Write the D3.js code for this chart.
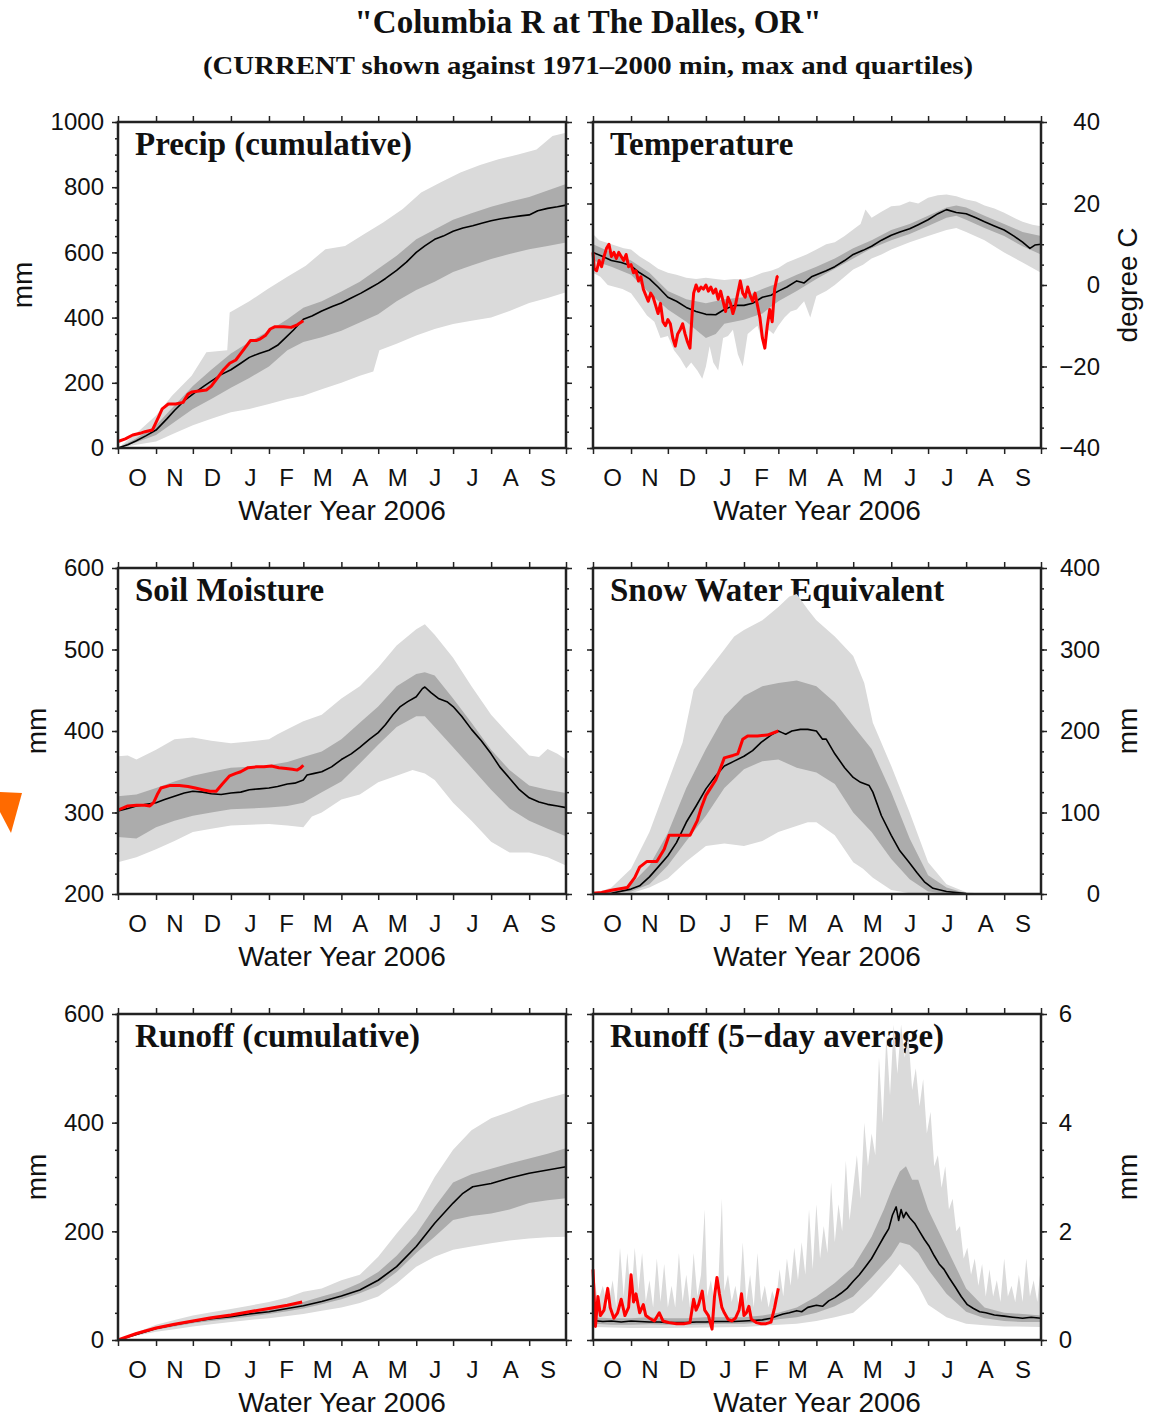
<!DOCTYPE html>
<html>
<head>
<meta charset="utf-8">
<script src="https://cdn.jsdelivr.net/npm/d3@7"></script>
<style>
  body { margin: 0; background: #fff; }
  text { fill: #111; }
</style>
</head>
<body>
<svg id="chart" width="1155" height="1419"></svg>
<script>
// month labels for the water year (Oct..Sep) and the day each month starts
var months = ["O","N","D","J","F","M","A","M","J","J","A","S"];
var monthStarts = [0,31,61,92,123,151,182,212,243,273,304,335,365];

// tick labels per panel
var precipTicks = [0,200,400,600,800,1000];
var tempTicks = [-40,-20,0,20,40];
var soilTicks = [200,300,400,500,600];
var sweTicks = [0,100,200,300,400];
var roCumTicks = [0,200,400,600];
var ro5Ticks = [0,2,4,6];

// ---- Precip (cumulative), mm.  [day of water year, value]
var precipMax = [[0,0],[15,45],[31,100],[44,160],[60,222],[72,294],[89,300],[91,416],[107,450],[122,488],[138,525],[153,559],[169,610],[185,620],[200,655],[216,692],[232,733],[247,784],[263,815],[279,845],[295,868],[310,886],[326,900],[341,916],[354,957],[365,967]];
var precipQ3 = [[0,0],[15,30],[31,70],[46,130],[61,190],[76,240],[92,290],[107,325],[123,360],[138,395],[151,430],[166,450],[182,480],[197,510],[212,550],[227,590],[243,640],[258,670],[273,700],[288,720],[304,740],[319,755],[335,770],[350,790],[365,810]];
var precipMed = [[0,0],[8,10],[15,22],[23,38],[31,55],[40,90],[46,115],[54,145],[61,165],[70,190],[76,205],[84,225],[92,240],[100,260],[107,278],[115,290],[123,300],[130,315],[137,340],[143,362],[151,395],[158,405],[166,420],[175,435],[182,445],[190,460],[198,475],[205,490],[212,505],[218,520],[227,545],[235,570],[243,600],[250,620],[258,640],[265,650],[273,665],[281,675],[289,682],[297,690],[304,697],[312,703],[320,708],[328,712],[335,715],[342,728],[350,735],[358,740],[365,745]];
var precipQ1 = [[0,0],[15,18],[31,40],[46,80],[61,120],[76,150],[92,185],[107,215],[123,250],[138,300],[151,325],[166,340],[182,360],[197,385],[212,410],[227,450],[243,485],[258,510],[273,540],[288,560],[304,580],[319,595],[335,610],[350,620],[365,630]];
var precipMin = [[0,0],[15,10],[31,20],[46,45],[61,70],[76,90],[92,110],[107,120],[123,135],[138,150],[151,160],[166,180],[182,200],[197,222],[208,235],[213,300],[227,320],[243,345],[258,365],[273,380],[288,390],[304,400],[319,420],[335,445],[350,460],[365,478]];
var precipNow = [[0,20],[6,28],[12,40],[18,45],[22,50],[28,55],[33,95],[36,120],[41,135],[47,135],[53,140],[57,165],[60,172],[66,175],[72,178],[76,190],[80,210],[86,240],[91,260],[96,270],[99,285],[103,305],[108,330],[113,330],[116,335],[120,345],[124,365],[128,372],[135,372],[141,370],[146,378],[151,390]];

// ---- Temperature, degree C
var tempMax = [[0,12.5],[5,11],[10,10.5],[15,10],[20,9.5],[25,9],[31,8.7],[38,7],[46,5.5],[53,4],[61,3],[68,2.5],[76,1.8],[84,1.5],[92,1.8],[100,1.5],[107,1.2],[115,1.5],[123,1.4],[130,2],[138,3],[145,3.5],[151,4.2],[158,5.5],[166,6.5],[174,7.5],[182,8.7],[190,10],[197,10.5],[205,12],[212,13.6],[218,15],[222,18.5],[227,16.5],[235,18],[243,19.3],[250,19.5],[258,20.5],[265,20],[273,21.4],[281,22],[288,22.2],[296,21.8],[304,21],[312,20.5],[319,19.5],[327,18.8],[335,17.7],[343,16.5],[350,15.5],[358,14.8],[365,14.4]];
var tempQ3 = [[0,10],[15,8],[31,6],[46,3],[61,-1.5],[76,-3.5],[92,-4.5],[107,-3.5],[123,-3],[138,-1],[151,0.5],[166,2.5],[182,4.5],[197,6.5],[212,9],[227,11],[243,13.5],[258,15],[273,17],[288,19],[296,19.5],[304,19],[319,17],[335,15],[350,13],[365,12]];
var tempMed = [[0,8],[8,7],[15,6],[23,5.5],[31,4.7],[38,3],[46,1.5],[53,-0.5],[61,-3],[68,-4],[76,-5.5],[84,-6.5],[92,-7.2],[100,-7.3],[107,-6],[115,-5],[123,-5],[130,-4.5],[138,-3],[145,-2.5],[151,-1.5],[158,-0.5],[166,1],[172,0.5],[178,2],[182,2.5],[190,3.5],[197,4.5],[205,6],[212,7.5],[220,8.5],[227,9.5],[235,11],[243,12.2],[250,13],[258,13.8],[265,14.8],[273,16],[281,17.5],[288,18.5],[296,17.8],[304,17.5],[312,16.5],[319,15.5],[327,14.5],[335,13.5],[343,12],[350,10.5],[356,9],[360,9.8],[365,10]];
var tempQ1 = [[0,6],[15,4.5],[31,2.5],[46,-2],[61,-6],[76,-9],[88,-12],[92,-13],[100,-12],[107,-9.5],[115,-9],[123,-8.5],[138,-7],[151,-4],[166,-1.5],[182,1.5],[197,4],[212,6.5],[227,9],[243,11],[258,12.5],[273,14.5],[288,16.5],[296,17],[304,16],[319,14],[335,12],[350,9.5],[365,7.5]];
var tempMin = [[0,3],[6,2],[12,0],[18,-0.5],[24,-1],[31,-2],[37,-4.5],[44,-7.5],[50,-9],[55,-13],[61,-12.5],[66,-16],[71,-18],[76,-20.5],[80,-19],[85,-21],[89,-23],[92,-20],[95,-15],[98,-19],[102,-21],[106,-13],[110,-12.5],[114,-11],[118,-17],[122,-20],[126,-12],[130,-11],[134,-10],[138,-14],[143,-11],[147,-12],[151,-10],[156,-8],[161,-6.5],[166,-6],[172,-4],[177,-8],[182,-2.7],[190,-1.5],[197,0],[205,2],[212,3.8],[220,5],[227,6.5],[235,7.5],[243,8.7],[258,10.5],[273,12],[288,13.5],[296,14],[304,13],[319,11],[335,8],[350,5.5],[365,3]];
var tempNow = [[0,8],[1,4],[3,3.5],[5,6],[7,4.5],[9,7],[11,9],[13,10],[15,7],[17,8],[19,6.5],[21,8],[23,7],[25,6],[27,7.5],[29,4.5],[31,5],[33,3],[35,3.5],[37,1],[39,2],[41,-1],[43,-2.5],[45,-4],[47,-2],[49,-3],[51,-5],[53,-7],[55,-4.5],[57,-9],[59,-10],[61,-8.5],[63,-9.5],[65,-13],[67,-15],[69,-12],[71,-11],[73,-9.5],[75,-12],[77,-14],[79,-15.5],[81,-6],[82,-2],[84,0],[86,-1.5],[88,-0.5],[90,-1],[92,0],[94,-1.5],[96,-0.5],[98,-2],[100,-1],[102,-3.5],[104,-1.5],[106,-4],[108,-6.5],[110,-3],[112,-4.5],[114,-7],[116,-5],[118,-2],[120,1],[122,-2],[124,-3],[126,-0.5],[128,-2.5],[130,-4],[132,-2],[134,-5],[136,-8],[138,-13],[140,-15.5],[142,-10],[144,-6],[146,-9],[148,-1],[150,2],[151,2.2]];

// ---- Soil Moisture, mm
var soilMax = [[0,369],[8,370],[15,365],[31,377],[46,390],[61,392],[76,388],[92,385],[107,387],[123,390],[130,396],[138,402],[151,412],[166,420],[182,440],[197,455],[212,478],[227,505],[243,525],[250,531],[258,518],[273,490],[288,455],[304,420],[319,395],[335,370],[343,368],[350,378],[358,372],[365,365]];
var soilQ3 = [[0,320],[15,322],[31,330],[46,338],[61,345],[76,350],[92,355],[107,356],[123,358],[138,362],[151,368],[166,375],[182,390],[197,410],[212,430],[227,455],[243,470],[250,472],[258,468],[273,440],[288,410],[304,377],[319,352],[335,333],[350,328],[365,324]];
var soilMed = [[0,302],[8,305],[15,308],[23,310],[31,312],[38,316],[46,320],[54,324],[61,326],[69,325],[76,323],[84,322],[92,324],[100,325],[107,328],[115,329],[123,330],[130,332],[138,335],[144,336],[151,340],[154,346],[160,348],[166,350],[174,356],[182,365],[190,372],[197,380],[205,390],[212,398],[218,408],[224,420],[230,430],[236,436],[243,442],[248,452],[250,454],[255,447],[261,440],[268,436],[273,430],[280,418],[288,402],[296,388],[304,372],[311,356],[319,342],[327,328],[335,318],[343,313],[350,310],[358,308],[365,306]];
var soilQ1 = [[0,270],[15,268],[31,282],[46,290],[61,296],[76,300],[92,304],[107,305],[123,306],[138,308],[151,312],[166,325],[182,338],[197,360],[212,383],[227,405],[243,418],[250,418],[258,405],[273,380],[288,355],[304,328],[319,305],[335,290],[350,280],[365,271]];
var soilMin = [[0,239],[15,245],[31,255],[46,265],[61,276],[76,280],[92,284],[107,285],[123,286],[138,284],[151,282],[158,295],[166,300],[182,316],[197,322],[212,337],[227,345],[240,352],[250,348],[258,340],[273,312],[288,290],[304,264],[319,251],[335,251],[350,245],[365,235]];
var soilNow = [[0,303],[8,308],[15,309],[22,309],[26,308],[29,312],[32,322],[35,330],[42,333],[50,333],[57,332],[63,330],[69,328],[75,326],[80,326],[85,335],[91,345],[96,348],[100,350],[106,355],[113,356],[119,356],[125,357],[131,355],[137,354],[142,353],[146,352],[149,355],[151,358]];

// ---- Snow Water Equivalent, mm
var sweMax = [[0,0],[15,8],[31,31],[46,76],[61,137],[73,186],[82,251],[92,271],[107,300],[115,316],[123,324],[138,336],[151,352],[160,365],[166,368],[175,349],[182,336],[197,316],[212,292],[221,259],[228,210],[243,157],[258,100],[273,39],[288,12],[304,2],[320,0],[365,0]];
var sweQ3 = [[0,0],[15,3],[31,12],[46,35],[61,75],[76,130],[92,178],[107,218],[123,243],[138,255],[151,259],[166,262],[182,255],[197,235],[212,206],[227,178],[243,125],[258,68],[273,23],[288,8],[304,1],[320,0],[365,0]];
var sweMed = [[0,0],[15,1],[31,6],[38,10],[46,21],[53,33],[61,47],[68,63],[76,88],[84,108],[92,129],[100,145],[107,157],[115,163],[123,169],[130,176],[137,186],[145,195],[151,200],[154,198],[157,196],[162,200],[169,202],[175,202],[182,200],[187,190],[190,190],[197,172],[205,155],[212,143],[218,137],[225,133],[228,125],[235,96],[243,72],[250,53],[257,40],[264,26],[270,15],[277,7],[288,3],[304,0.5],[320,0],[365,0]];
var sweQ1 = [[0,0],[15,1],[31,3],[46,12],[61,35],[76,65],[92,96],[107,130],[123,153],[138,163],[151,165],[166,155],[182,149],[197,135],[212,100],[227,76],[243,43],[258,18],[273,3],[288,0.5],[304,0],[365,0]];
var sweMin = [[0,0],[31,1],[46,8],[61,19],[76,40],[92,59],[107,62],[123,59],[138,65],[151,76],[175,88],[182,88],[197,72],[212,39],[220,31],[228,20],[243,5],[258,1],[273,0],[365,0]];
var sweNow = [[0,1],[7,2],[16,5],[28,8],[34,20],[38,33],[44,40],[52,40],[58,55],[62,72],[70,72],[79,72],[85,90],[88,105],[92,121],[100,140],[104,155],[107,167],[114,170],[118,172],[122,190],[126,194],[134,194],[142,195],[151,200]];

// ---- Runoff (cumulative), mm
var roCumMax = [[0,0],[15,14],[31,28],[46,37],[61,45],[76,51],[92,57],[107,63],[123,70],[138,78],[151,89],[166,95],[182,110],[197,120],[212,153],[227,196],[243,239],[258,300],[273,350],[288,386],[304,408],[319,420],[335,435],[350,445],[365,454]];
var roCumQ3 = [[0,0],[15,12],[31,23],[46,30],[61,37],[76,42],[92,47],[107,52],[123,57],[138,63],[151,70],[166,80],[182,90],[197,105],[212,125],[227,155],[243,195],[258,245],[273,290],[288,305],[304,315],[319,325],[335,334],[350,343],[365,353]];
var roCumMed = [[0,0],[15,10],[31,21],[46,28],[61,34],[76,39],[92,43],[107,48],[123,52],[138,58],[151,63],[166,71],[182,81],[197,92],[212,110],[227,135],[243,172],[258,215],[273,252],[281,270],[289,282],[304,288],[319,298],[335,307],[350,313],[365,319]];
var roCumQ1 = [[0,0],[15,9],[31,19],[46,25],[61,31],[76,35],[92,39],[107,43],[123,48],[138,53],[151,58],[166,66],[182,75],[197,86],[212,100],[227,125],[243,160],[258,190],[273,221],[288,228],[304,233],[319,240],[335,252],[350,257],[365,261]];
var roCumMin = [[0,0],[15,8],[31,15],[46,20],[61,25],[76,29],[92,33],[107,37],[123,40],[138,44],[151,48],[166,54],[182,60],[197,68],[212,80],[227,104],[243,135],[258,153],[273,166],[288,172],[304,178],[319,183],[335,187],[350,189],[365,190]];
var roCumNow = [[0,0],[15,12],[31,22],[46,29],[61,35],[76,41],[92,46],[107,52],[123,58],[138,64],[150,70]];

// ---- Runoff (5-day average), mm
var ro5Max = [[0,1.3],[4,0.7],[8,1.0],[12,0.6],[16,1.1],[19,0.6],[22,1.7],[25,0.8],[28,1.6],[31,0.7],[34,1.7],[37,0.9],[40,1.6],[43,0.7],[46,1.1],[49,0.6],[52,1.5],[55,0.7],[58,1.4],[61,0.6],[64,1.0],[67,0.6],[70,1.6],[73,0.7],[76,1.2],[79,0.6],[82,1.6],[85,0.8],[88,1.2],[91,2.4],[93,0.8],[96,1.1],[99,0.7],[102,1.0],[105,2.6],[107,0.9],[110,1.2],[113,0.7],[116,1.0],[119,0.6],[122,1.8],[125,0.7],[128,1.2],[131,0.6],[134,1.6],[137,0.7],[140,1.0],[143,0.6],[146,0.9],[149,0.7],[152,1.3],[155,0.8],[158,1.5],[161,1.0],[164,1.7],[167,1.1],[170,1.8],[173,1.2],[176,2.4],[179,1.3],[182,2.5],[185,1.5],[188,2.1],[191,1.6],[194,2.9],[197,1.8],[200,2.5],[203,2.0],[206,3.3],[209,2.2],[212,2.8],[215,3.4],[218,2.6],[221,4.0],[224,3.2],[227,3.8],[230,3.4],[233,5.2],[236,4.0],[239,5.6],[242,4.5],[245,5.8],[248,4.9],[251,5.8],[254,5.2],[257,5.6],[260,4.6],[263,5.0],[266,4.3],[269,4.8],[272,3.8],[275,4.2],[278,3.2],[281,3.4],[284,2.8],[287,3.2],[290,2.4],[293,2.6],[296,2.0],[299,2.1],[302,1.5],[305,1.7],[308,1.2],[311,1.5],[314,1.0],[317,1.4],[320,0.8],[323,1.3],[326,0.8],[329,1.1],[332,0.7],[335,1.5],[338,0.8],[341,1.0],[344,0.7],[347,1.2],[350,0.7],[353,1.5],[356,0.8],[359,1.1],[362,0.7],[365,1.4]];
var ro5Q3 = [[0,0.42],[15,0.4],[31,0.4],[46,0.42],[61,0.4],[76,0.4],[92,0.42],[107,0.42],[123,0.42],[138,0.45],[151,0.5],[166,0.6],[182,0.8],[197,1.05],[212,1.35],[227,1.9],[237,2.4],[243,2.75],[250,3.1],[255,3.2],[260,2.95],[265,2.95],[273,2.4],[288,1.7],[304,0.95],[319,0.6],[335,0.5],[350,0.48],[365,0.45]];
var ro5Med = [[0,0.36],[8,0.34],[15,0.35],[23,0.33],[31,0.35],[38,0.34],[46,0.33],[54,0.33],[61,0.32],[69,0.32],[76,0.32],[84,0.33],[92,0.33],[100,0.34],[107,0.34],[115,0.34],[123,0.35],[130,0.36],[138,0.37],[145,0.4],[151,0.45],[155,0.48],[160,0.5],[166,0.54],[170,0.52],[175,0.6],[182,0.64],[187,0.62],[192,0.72],[197,0.78],[202,0.86],[207,0.95],[212,1.08],[217,1.2],[222,1.35],[227,1.5],[232,1.7],[237,1.9],[241,2.05],[244,2.3],[247,2.45],[249,2.2],[251,2.4],[253,2.25],[255,2.35],[258,2.25],[262,2.15],[266,2.0],[270,1.85],[274,1.72],[278,1.55],[282,1.4],[286,1.3],[290,1.15],[295,0.98],[300,0.8],[305,0.65],[310,0.58],[315,0.52],[320,0.5],[327,0.46],[335,0.44],[342,0.42],[350,0.4],[357,0.42],[365,0.4]];
var ro5Q1 = [[0,0.3],[15,0.28],[31,0.28],[46,0.29],[61,0.28],[76,0.28],[92,0.29],[107,0.3],[123,0.3],[138,0.32],[151,0.38],[166,0.42],[182,0.5],[197,0.62],[212,0.8],[227,1.15],[243,1.55],[250,1.8],[258,1.75],[265,1.6],[273,1.3],[288,0.85],[304,0.52],[319,0.4],[335,0.35],[350,0.33],[365,0.33]];
var ro5Min = [[0,0.24],[31,0.22],[61,0.22],[92,0.23],[123,0.24],[151,0.28],[166,0.3],[182,0.35],[197,0.42],[212,0.5],[227,0.8],[243,1.2],[250,1.4],[258,1.2],[265,1.0],[273,0.65],[288,0.42],[304,0.3],[319,0.27],[335,0.25],[365,0.24]];
var ro5Now = [[0,1.3],[2,0.25],[4,0.8],[6,0.45],[9,0.55],[12,0.95],[14,0.6],[17,0.4],[20,0.5],[23,0.75],[26,0.45],[29,0.6],[31,1.2],[33,0.7],[35,0.85],[38,0.5],[41,0.65],[43,0.45],[46,0.4],[50,0.35],[54,0.5],[57,0.35],[62,0.32],[68,0.3],[74,0.3],[79,0.32],[82,0.75],[84,0.55],[86,0.65],[89,0.9],[91,0.55],[94,0.45],[97,0.2],[99,0.8],[101,1.15],[103,0.85],[105,0.6],[107,0.5],[110,0.38],[113,0.35],[116,0.4],[119,0.55],[121,0.85],[123,0.45],[125,0.5],[127,0.62],[129,0.38],[133,0.32],[137,0.3],[141,0.3],[145,0.33],[148,0.6],[151,0.95]];

var svg = d3.select("#chart");
var sans = "'Liberation Sans', Arial, Helvetica, sans-serif";
var serif = "'Liberation Serif', 'Times New Roman', serif";

var colX = [118, 593], rowY = [122, 568, 1014];
var pw = 448, ph = 326;

// main titles
svg.append("text").attr("x", 588).attr("y", 33)
  .attr("text-anchor", "middle").attr("font-family", serif).attr("font-weight", "bold")
  .attr("font-size", 34).attr("textLength", 467).attr("lengthAdjust", "spacingAndGlyphs")
  .text('"Columbia R at The Dalles, OR"');
svg.append("text").attr("x", 588).attr("y", 74)
  .attr("text-anchor", "middle").attr("font-family", serif).attr("font-weight", "bold")
  .attr("font-size", 26).attr("textLength", 770).attr("lengthAdjust", "spacingAndGlyphs")
  .text("(CURRENT shown against 1971\u20132000 min, max and quartiles)");

// stray orange pointer at the left edge
svg.append("path").attr("d", "M0,792L22,793L11,833L0,812Z").attr("fill", "#ff6a00");

var panels = [
  {col:0, row:0, title:"Precip (cumulative)", domain:[0,1000], ticks:precipTicks, minor:50, side:"left", unit:"mm", unitX:22,
   max:precipMax, q3:precipQ3, med:precipMed, q1:precipQ1, min:precipMin, now:precipNow},
  {col:1, row:0, title:"Temperature", domain:[-40,40], ticks:tempTicks, minor:5, side:"right", unit:"degree C", unitX:1127, alignX:1100,
   max:tempMax, q3:tempQ3, med:tempMed, q1:tempQ1, min:tempMin, now:tempNow},
  {col:0, row:1, title:"Soil Moisture", domain:[200,600], ticks:soilTicks, minor:25, side:"left", unit:"mm", unitX:36,
   max:soilMax, q3:soilQ3, med:soilMed, q1:soilQ1, min:soilMin, now:soilNow},
  {col:1, row:1, title:"Snow Water Equivalent", domain:[0,400], ticks:sweTicks, minor:25, side:"right", unit:"mm", unitX:1127, alignX:1100,
   max:sweMax, q3:sweQ3, med:sweMed, q1:sweQ1, min:sweMin, now:sweNow},
  {col:0, row:2, title:"Runoff (cumulative)", domain:[0,600], ticks:roCumTicks, minor:50, side:"left", unit:"mm", unitX:36,
   max:roCumMax, q3:roCumQ3, med:roCumMed, q1:roCumQ1, min:roCumMin, now:roCumNow},
  {col:1, row:2, title:"Runoff (5\u2212day average)", domain:[0,6], ticks:ro5Ticks, minor:0.5, side:"right", unit:"mm", unitX:1127, alignX:1072,
   max:ro5Max, q3:ro5Q3, med:ro5Med, q1:ro5Q1, min:ro5Min, now:ro5Now}
];

var monthMids = months.map(function(m, i) { return (monthStarts[i] + monthStarts[i+1]) / 2; });

panels.forEach(function(p) {
  var x0 = colX[p.col], y0 = rowY[p.row];
  var xs = d3.scaleLinear().domain([0, 365]).range([x0, x0 + pw]);
  var ys = d3.scaleLinear().domain(p.domain).range([y0 + ph, y0]);
  var g = svg.append("g");

  // panel title goes under the bands (bands hide parts of it in the original)
  g.append("text").attr("x", x0 + 17).attr("y", y0 + 33)
    .attr("font-family", serif).attr("font-weight", "bold").attr("font-size", 33)
    .text(p.title);

  var line = d3.line().x(function(d) { return xs(d[0]); }).y(function(d) { return ys(d[1]); });
  function band(top, bottom) {
    return line(top.concat(bottom.slice().reverse())) + "Z";
  }

  g.append("path").attr("d", band(p.max, p.min)).attr("fill", "#dadada");
  g.append("path").attr("d", band(p.q3, p.q1)).attr("fill", "#acacac");
  g.append("path").attr("d", line(p.med)).attr("fill", "none")
    .attr("stroke", "#000").attr("stroke-width", 1.6).attr("stroke-linejoin", "round");
  g.append("path").attr("d", line(p.now)).attr("fill", "none")
    .attr("stroke", "#ff0000").attr("stroke-width", 3).attr("stroke-linejoin", "round");

  // ticks: major/minor on both sides, months on top and bottom
  var minorVals = d3.range(p.domain[0], p.domain[1] + p.minor / 2, p.minor);
  function tickOnly(axis, tx, ty, vals, size) {
    g.append("g").attr("transform", "translate(" + tx + "," + ty + ")")
      .call(axis.tickValues(vals).tickSize(size).tickSizeOuter(0).tickFormat(""))
      .call(function(a) { a.select(".domain").remove(); a.selectAll("line").attr("stroke", "#222").attr("stroke-width", 1.5); });
  }
  tickOnly(d3.axisLeft(ys), x0, 0, minorVals, 3);
  tickOnly(d3.axisRight(ys), x0 + pw, 0, minorVals, 3);
  tickOnly(d3.axisLeft(ys), x0, 0, p.ticks, 6);
  tickOnly(d3.axisRight(ys), x0 + pw, 0, p.ticks, 6);
  tickOnly(d3.axisTop(xs), 0, y0, monthStarts, 6);
  tickOnly(d3.axisBottom(xs), 0, y0 + ph, monthStarts, 6);

  // y labels
  var yAxis = (p.side === "left" ? d3.axisLeft(ys) : d3.axisRight(ys))
    .tickValues(p.ticks).tickSize(0).tickPadding(14).tickFormat(d3.format("d"));
  var ya = g.append("g").attr("transform", "translate(" + (p.side === "left" ? x0 : x0 + pw) + ",0)").call(yAxis);
  ya.select(".domain").remove();
  ya.selectAll("text").attr("font-family", sans).attr("font-size", 24).attr("fill", "#111");
  if (p.side === "right") {
    ya.selectAll("text").attr("text-anchor", "end").attr("x", p.alignX - (x0 + pw));
  }

  // month letters
  var xa = g.append("g").attr("transform", "translate(0," + (y0 + ph) + ")")
    .call(d3.axisBottom(xs).tickValues(monthMids).tickSize(0).tickPadding(21)
      .tickFormat(function(d, i) { return months[i]; }));
  xa.select(".domain").remove();
  xa.selectAll("text").attr("font-family", sans).attr("font-size", 24).attr("fill", "#111");

  g.append("text").attr("x", x0 + pw / 2).attr("y", y0 + ph + 72)
    .attr("text-anchor", "middle").attr("font-family", sans).attr("font-size", 28)
    .text("Water Year 2006");

  g.append("text").attr("transform", "translate(" + p.unitX + "," + (y0 + ph / 2) + ") rotate(-90)")
    .attr("text-anchor", "middle").attr("dy", "0.35em")
    .attr("font-family", sans).attr("font-size", 28)
    .text(p.unit);

  // frame
  g.append("rect").attr("x", x0).attr("y", y0).attr("width", pw).attr("height", ph)
    .attr("fill", "none").attr("stroke", "#222").attr("stroke-width", 2.5);
});
</script>
</body>
</html>
